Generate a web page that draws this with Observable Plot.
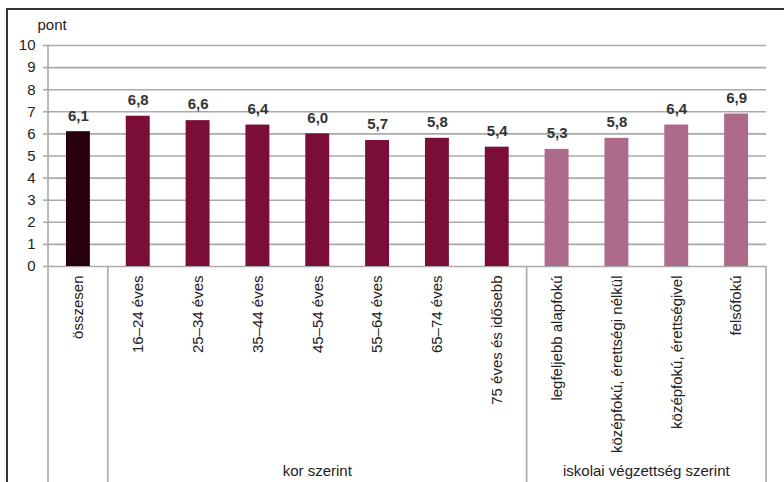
<!DOCTYPE html>
<html><head><meta charset="utf-8">
<script src="https://cdn.jsdelivr.net/npm/d3@7"></script>
<script src="https://cdn.jsdelivr.net/npm/@observablehq/plot@0.6"></script>
<style>
body{margin:0;background:#fff;overflow:hidden}
#wrap{position:relative;width:784px;height:482px;overflow:hidden}
#border{position:absolute;left:6px;top:8px;width:900px;height:600px;border:2px solid #333;pointer-events:none}
</style></head><body><div id="wrap"><div id="border"></div></div>
<script>
const categories = ["összesen","16–24 éves","25–34 éves","35–44 éves","45–54 éves","55–64 éves","65–74 éves","75 éves és idősebb","legfeljebb alapfokú","középfokú, érettségi nélkül","középfokú, érettségivel","felsőfokú"];
const values = [6.1, 6.8, 6.6, 6.4, 6.0, 5.7, 5.8, 5.4, 5.3, 5.8, 6.4, 6.9];
const groups = ["", "kor szerint", "kor szerint", "kor szerint", "kor szerint", "kor szerint", "kor szerint", "kor szerint", "iskolai végzettség szerint", "iskolai végzettség szerint", "iskolai végzettség szerint", "iskolai végzettség szerint"];
const groupNames = ["", "kor szerint", "iskolai végzettség szerint"];
const groupColors = ["#28000f", "#7b0d39", "#ae6a8b"];
const yTicks = [0, 1, 2, 3, 4, 5, 6, 7, 8, 9, 10];
const unitLabel = "pont";

const data = categories.map((c, i) => ({category: c, value: values[i], group: groups[i]}));
const gray = "#aaaaaa";

function groupFrame(index, scales, vals, dims) {
  const x = scales.x, y = scales.y;
  const step = x.step(), bw = x.bandwidth();
  const half = (step - bw) / 2;
  const H = dims.height;
  const y0 = y(0), yTop = y(10);
  const g = d3.create("svg:g");
  const left = x(categories[0]) - half;
  g.append("line").attr("x1", left).attr("x2", left).attr("y1", yTop).attr("y2", H)
    .attr("stroke", gray).attr("stroke-width", 1.6);
  let start = 0;
  for (let i = 0; i < categories.length; i++) {
    if (i === categories.length - 1 || groups[i] !== groups[i + 1]) {
      const xs = x(categories[start]) - half;
      const xe = x(categories[i]) + bw + half;
      g.append("line").attr("x1", xe).attr("x2", xe).attr("y1", y0).attr("y2", H)
        .attr("stroke", gray).attr("stroke-width", 1.6);
      if (groups[i]) {
        g.append("text").attr("x", (xs + xe) / 2).attr("y", H - 6)
          .attr("text-anchor", "middle").attr("fill", "#222").text(groups[i]);
      }
      start = i + 1;
    }
  }
  return g.node();
}

const chart = Plot.plot({
  width: 784,
  height: 482,
  marginLeft: 48,
  marginRight: 18,
  marginTop: 45,
  marginBottom: 216,
  style: {fontFamily: "'Liberation Sans', Arial, sans-serif", fontSize: "15px", color: "#222", background: "transparent"},
  x: {domain: categories, paddingInner: 0.6, paddingOuter: 0.3, round: false, label: null},
  y: {domain: [0, 10], label: null},
  color: {domain: groupNames, range: groupColors},
  marks: [
    Plot.ruleY(yTicks, {stroke: gray, strokeWidth: 1.6}),
    Plot.axisY(yTicks, {tickSize: 5, tickPadding: 8, stroke: gray, strokeWidth: 1.6, label: null, fill: "#222"}),
    Plot.axisX({tickRotate: -90, tickSize: 0, tickPadding: 9, label: null, fill: "#222"}),
    groupFrame,
    Plot.barY(data, {x: "category", y: "value", fill: "group"}),
    Plot.text(data, {x: "category", y: "value", text: d => d.value.toFixed(1).replace(".", ","), dy: -16, lineAnchor: "middle", fontWeight: "bold", fill: "#333"}),
    Plot.text([unitLabel], {frameAnchor: "top-left", text: d => d, dx: -11, dy: -20, textAnchor: "start", lineAnchor: "middle", fill: "#222"})
  ]
});
document.getElementById("wrap").prepend(chart);
</script>
</body></html>
